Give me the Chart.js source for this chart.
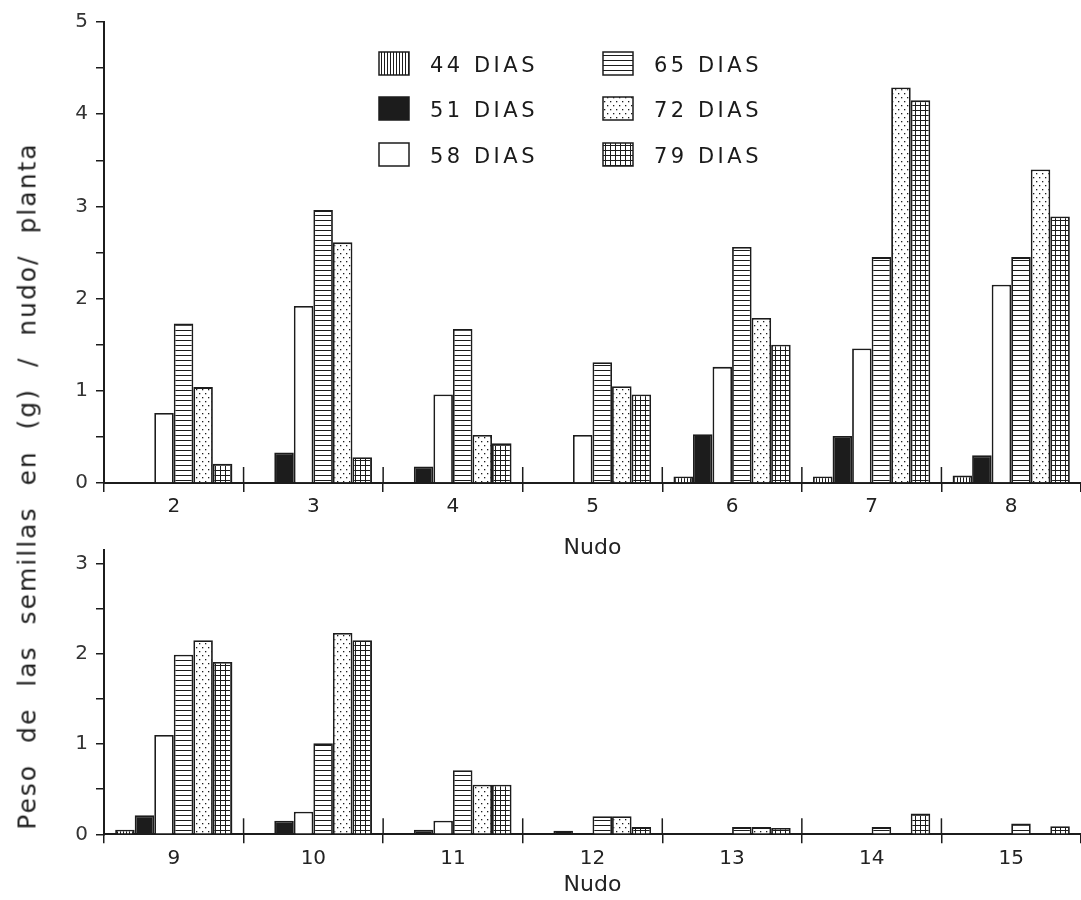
<!DOCTYPE html>
<html>
<head>
<meta charset="utf-8">
<script src="https://cdn.jsdelivr.net/npm/chart.js@4.4.1/dist/chart.umd.min.js"></script>
<style>
  html, body { margin: 0; padding: 0; background: #fff; }
  #wrap { position: relative; width: 1081px; height: 900px; overflow: hidden; background: #fff; }
  .box { position: absolute; left: 0; width: 1081px; }
  #ytitle {
    position: absolute; left: 27px; top: 486px;
    transform: translate(-50%, -50%) rotate(-90deg);
    white-space: nowrap; font: 25px "DejaVu Sans", sans-serif; color: #222;
    letter-spacing: 2px; word-spacing: 11px;
  }
</style>
</head>
<body>
<div id="wrap">
  <div class="box" style="top:0;height:565px"><canvas id="topChart"></canvas></div>
  <div class="box" style="top:530px;height:370px"><canvas id="botChart"></canvas></div>
  <div id="ytitle">Peso de las semillas en (g) / nudo/ planta</div>
</div>
<script>
// nodes (x categories) and series
const nudosTop = ['2', '3', '4', '5', '6', '7', '8'];
const nudosBot = ['9', '10', '11', '12', '13', '14', '15'];
const seriesLabels = ['44 DIAS', '51 DIAS', '58 DIAS', '65 DIAS', '72 DIAS', '79 DIAS'];

// seed weight per node, top panel (nodes 2-8)
const d44Top = [0, 0, 0, 0, 0.07, 0.07, 0.08];
const d51Top = [0, 0.33, 0.18, 0, 0.53, 0.51, 0.3];
const d58Top = [0.76, 1.92, 0.96, 0.52, 1.26, 1.46, 2.15];
const d65Top = [1.73, 2.96, 1.67, 1.31, 2.56, 2.45, 2.45];
const d72Top = [1.04, 2.61, 0.52, 1.05, 1.79, 4.29, 3.4];
const d79Top = [0.21, 0.28, 0.43, 0.96, 1.5, 4.15, 2.89];

// bottom panel (nodes 9-15)
const d44Bot = [0.05, 0, 0, 0, 0, 0, 0];
const d51Bot = [0.21, 0.15, 0.05, 0.04, 0, 0, 0];
const d58Bot = [1.1, 0.25, 0.15, 0, 0, 0, 0];
const d65Bot = [1.99, 1.01, 0.71, 0.2, 0.08, 0.08, 0.12];
const d72Bot = [2.15, 2.23, 0.55, 0.2, 0.08, 0, 0];
const d79Bot = [1.91, 2.15, 0.55, 0.08, 0.07, 0.23, 0.09];

const INK = '#1c1c1c';

function makePattern(kind) {
  const c = document.createElement('canvas');
  const size = { vlines: [3, 3], hlines: [5, 5], dots: [6, 8], grid: [5, 5] }[kind];
  c.width = size[0]; c.height = size[1];
  const g = c.getContext('2d');
  g.fillStyle = '#fff'; g.fillRect(0, 0, c.width, c.height);
  g.fillStyle = INK;
  if (kind === 'vlines') g.fillRect(0, 0, 1, 3);
  if (kind === 'hlines') g.fillRect(0, 0, 5, 1);
  if (kind === 'dots') { g.fillRect(1, 1, 1.3, 1.3); g.fillRect(4, 5, 1.3, 1.3); }
  if (kind === 'grid') { g.fillRect(0, 0, 1, 5); g.fillRect(0, 0, 5, 1); }
  return g.createPattern(c, 'repeat');
}

const fills = [makePattern('vlines'), INK, '#fff', makePattern('hlines'), makePattern('dots'), makePattern('grid')];

function datasets(series) {
  return series.map((data, i) => ({
    label: seriesLabels[i], data,
    backgroundColor: fills[i], borderColor: INK, borderWidth: 1.8,
    categoryPercentage: 0.84, barPercentage: 1.0,
  }));
}

// short group separators crossing the x axis
const separators = {
  id: 'separators',
  afterDraw(chart) {
    const x = chart.scales.x, ctx = chart.ctx;
    ctx.save();
    ctx.strokeStyle = INK; ctx.lineWidth = 1.5;
    for (let i = 1; i < chart.data.labels.length; i++) {
      const px = (x.getPixelForValue(i - 1) + x.getPixelForValue(i)) / 2;
      ctx.beginPath(); ctx.moveTo(px, x.top - 16); ctx.lineTo(px, x.top); ctx.stroke();
    }
    ctx.restore();
  }
};

// two-column legend inside the top panel
const boxLegend = {
  id: 'boxLegend',
  afterDraw(chart) {
    const ctx = chart.ctx;
    const cols = [379, 603], rows = [52, 97, 143];
    ctx.save();
    ctx.font = '21px "DejaVu Sans"';
    ctx.letterSpacing = '3.5px';
    ctx.textBaseline = 'middle';
    chart.data.datasets.forEach((ds, i) => {
      const bx = cols[Math.floor(i / 3)], by = rows[i % 3];
      ctx.fillStyle = ds.backgroundColor;
      ctx.fillRect(bx, by, 30, 23);
      ctx.strokeStyle = INK; ctx.lineWidth = 1.5;
      ctx.strokeRect(bx, by, 30, 23);
      ctx.fillStyle = '#1a1a1a';
      ctx.fillText(ds.label, bx + 51, by + 15);
    });
    ctx.restore();
  }
};

function options(yMax, yTop, xHeight, titlePad) {
  return {
    responsive: true, maintainAspectRatio: false, animation: false,
    layout: { padding: { top: yTop, left: 0, right: 0, bottom: 0 } },
    plugins: { legend: { display: false }, tooltip: { enabled: false } },
    scales: {
      x: {
        afterFit: (s) => { s.height = xHeight; },
        grid: { offset: true, drawOnChartArea: false, drawTicks: true, tickLength: 9, color: INK, lineWidth: 1.5 },
        border: { display: true, color: INK, width: 2 },
        ticks: { color: '#222', padding: 3, font: { family: 'DejaVu Sans', size: 20 } },
        title: { display: true, text: 'Nudo', color: '#222', padding: { top: 0, bottom: titlePad },
          font: { family: 'DejaVu Sans', size: 22 } },
      },
      y: {
        min: 0, max: yMax,
        afterFit: (s) => { s.width = 104; },
        grid: { drawOnChartArea: false, drawTicks: true, tickLength: 8, color: INK, lineWidth: 1.5 },
        border: { display: true, color: INK, width: 2 },
        ticks: { stepSize: 0.5, includeBounds: false, autoSkip: false, padding: 8, color: '#333',
          font: { family: 'DejaVu Sans', size: 20 },
          callback: (v) => (Number.isInteger(v) ? v : '') },
      },
    },
  };
}

new Chart(document.getElementById('topChart'), {
  type: 'bar',
  data: { labels: nudosTop, datasets: datasets([d44Top, d51Top, d58Top, d65Top, d72Top, d79Top]) },
  options: options(5, 22, 82, 4),
  plugins: [separators, boxLegend],
});

new Chart(document.getElementById('botChart'), {
  type: 'bar',
  data: { labels: nudosBot, datasets: datasets([d44Bot, d51Bot, d58Bot, d65Bot, d72Bot, d79Bot]) },
  options: options(3.15, 14.5, 65.7, 2),
  plugins: [separators],
});
</script>
</body>
</html>
